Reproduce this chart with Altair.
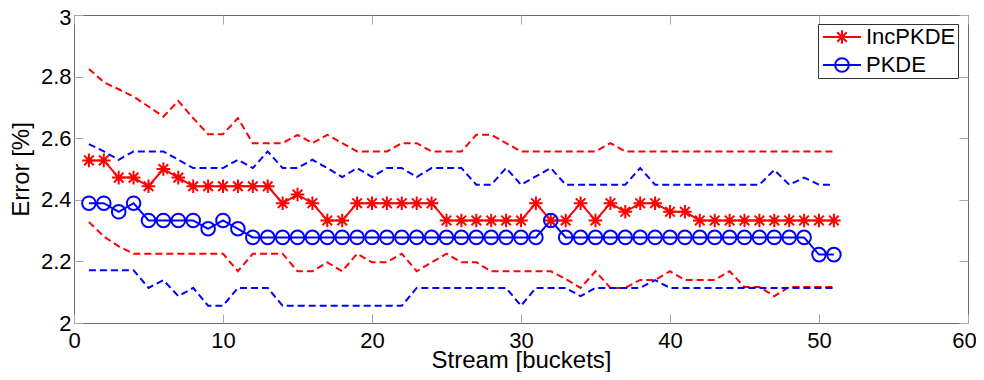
import altair as alt
import pandas as pd

# ---- data ----
x_vals = list(range(1, 52))

inc_mean = [2.528, 2.528, 2.472, 2.472, 2.444, 2.500, 2.472, 2.444, 2.444, 2.444,
            2.444, 2.444, 2.444, 2.389, 2.417, 2.389, 2.333, 2.333, 2.389, 2.389,
            2.389, 2.389, 2.389, 2.389, 2.333, 2.333, 2.333, 2.333, 2.333, 2.333,
            2.389, 2.333, 2.333, 2.389, 2.333, 2.389, 2.361, 2.389, 2.389, 2.361,
            2.361, 2.333, 2.333, 2.333, 2.333, 2.333, 2.333, 2.333, 2.333, 2.333,
            2.333]

pk_mean = [2.389, 2.389, 2.361, 2.389, 2.333, 2.333, 2.333, 2.333, 2.306, 2.333,
           2.306, 2.278, 2.278, 2.278, 2.278, 2.278, 2.278, 2.278, 2.278, 2.278,
           2.278, 2.278, 2.278, 2.278, 2.278, 2.278, 2.278, 2.278, 2.278, 2.278,
           2.278, 2.333, 2.278, 2.278, 2.278, 2.278, 2.278, 2.278, 2.278, 2.278,
           2.278, 2.278, 2.278, 2.278, 2.278, 2.278, 2.278, 2.278, 2.278, 2.222,
           2.222]

inc_upper = [2.825, 2.782, 2.759, 2.735, 2.703, 2.670, 2.721, 2.665, 2.613, 2.613,
             2.665, 2.584, 2.584, 2.584, 2.611, 2.584, 2.611, 2.584, 2.557, 2.557,
             2.557, 2.584, 2.584, 2.557, 2.557, 2.557, 2.611, 2.611, 2.584, 2.557,
             2.557, 2.557, 2.557, 2.557, 2.557, 2.584, 2.557, 2.557, 2.557, 2.557,
             2.557, 2.557, 2.557, 2.557, 2.557, 2.557, 2.557, 2.557, 2.557, 2.557,
             2.557]

inc_lower = [2.328, 2.281, 2.249, 2.225, 2.225, 2.225, 2.225, 2.225, 2.225, 2.225,
             2.168, 2.225, 2.225, 2.225, 2.168, 2.168, 2.197, 2.168, 2.225, 2.197,
             2.197, 2.225, 2.168, 2.197, 2.225, 2.197, 2.197, 2.168, 2.168, 2.168,
             2.168, 2.168, 2.143, 2.114, 2.168, 2.114, 2.114, 2.140, 2.140, 2.168,
             2.140, 2.140, 2.140, 2.168, 2.117, 2.117, 2.087, 2.117, 2.117, 2.117,
             2.117]

pk_upper = [2.581, 2.557, 2.530, 2.557, 2.557, 2.557, 2.530, 2.503, 2.503, 2.503,
            2.530, 2.503, 2.557, 2.503, 2.503, 2.530, 2.503, 2.474, 2.503, 2.474,
            2.503, 2.503, 2.474, 2.503, 2.503, 2.503, 2.449, 2.449, 2.503, 2.449,
            2.476, 2.503, 2.449, 2.449, 2.449, 2.449, 2.449, 2.503, 2.449, 2.449,
            2.449, 2.449, 2.449, 2.449, 2.449, 2.449, 2.497, 2.449, 2.472, 2.449,
            2.449]

pk_lower = [2.171, 2.171, 2.171, 2.171, 2.114, 2.139, 2.087, 2.114, 2.056, 2.056,
            2.114, 2.114, 2.114, 2.056, 2.056, 2.056, 2.056, 2.056, 2.056, 2.056,
            2.056, 2.056, 2.114, 2.114, 2.114, 2.114, 2.114, 2.114, 2.114, 2.056,
            2.114, 2.114, 2.114, 2.087, 2.114, 2.114, 2.114, 2.114, 2.139, 2.114,
            2.114, 2.114, 2.114, 2.114, 2.114, 2.114, 2.114, 2.114, 2.114, 2.114,
            2.114]

methods = ["IncPKDE", "PKDE"]
colors = ["#ff0000", "#0000ff"]
x_ticks = [0, 10, 20, 30, 40, 50, 60]
y_ticks = [2, 2.2, 2.4, 2.6, 2.8, 3]

n = len(x_vals)
means = pd.DataFrame({
    "x": x_vals * 2,
    "value": inc_mean + pk_mean,
    "method": ["IncPKDE"] * n + ["PKDE"] * n,
})
bounds = pd.DataFrame({
    "x": x_vals * 4,
    "value": inc_upper + inc_lower + pk_upper + pk_lower,
    "method": ["IncPKDE"] * (2 * n) + ["PKDE"] * (2 * n),
    "bound": ["iu"] * n + ["il"] * n + ["pu"] * n + ["pl"] * n,
})

# ---- styling ----
FONT = "Liberation Sans"
TICK_COLOR = "#a8a8a8"

star_path = "M0,-0.85L0,0.85M-0.85,0L0.85,0M-0.6,-0.6L0.6,0.6M-0.6,0.6L0.6,-0.6"
circle_path = "M0.85,0A0.85,0.85,0,1,1,-0.85,0A0.85,0.85,0,1,1,0.85,0"
# legend glyphs: line with the marker, drawn in symbol units (9 px per unit)
leg_star = ("M-0.89,0L3.33,0M1.22,-0.76L1.22,0.76M0.69,0L1.75,0"
            "M0.69,-0.53L1.75,0.53M0.69,0.53L1.75,-0.53")
leg_circle = "M-0.89,0L3.33,0M1.98,0A0.76,0.76,0,1,1,0.46,0A0.76,0.76,0,1,1,1.98,0"

xs = alt.Scale(domain=[0, 60], nice=False, zero=False)
ys = alt.Scale(domain=[2, 3], nice=False, zero=False)
cs = alt.Scale(domain=methods, range=colors)

common_axis = dict(tickSize=9, offset=-9, domain=False, grid=False,
                   tickColor=TICK_COLOR, tickWidth=1, labelFlush=False,
                   labelOverlap=False)

bottom_axis = alt.Axis(orient="bottom", values=x_ticks, labelFontSize=22, labelFont=FONT,
                       labelColor="black", labelPadding=7,
                       labelOffset=alt.condition("datum.value == 60", alt.value(-4), alt.value(0)),
                       title="Stream [buckets]",
                       titleFontSize=24, titleFont=FONT, titleFontWeight="normal",
                       titleColor="black", titleY=53, titleBaseline="alphabetic",
                       **common_axis)
left_axis = alt.Axis(orient="left", values=y_ticks, format=".1~f", labelFontSize=22,
                     labelFont=FONT, labelColor="black", labelPadding=3,
                     labelOffset=alt.condition("datum.value == 3", alt.value(2), alt.value(0)),
                     title="Error [%]", titleFontSize=24, titleFont=FONT,
                     titleFontWeight="normal", titleColor="black", titleX=-55,
                     titleBaseline="alphabetic", **common_axis)
top_axis = alt.Axis(orient="top", values=x_ticks, labels=False, title=None, **common_axis)
right_axis = alt.Axis(orient="right", values=y_ticks, labels=False, title=None, **common_axis)

bounds_layer = alt.Chart(bounds).mark_line(strokeDash=[7, 4], strokeWidth=2).encode(
    x=alt.X("x:Q", scale=xs, axis=bottom_axis),
    y=alt.Y("value:Q", scale=ys, axis=left_axis),
    color=alt.Color("method:N", scale=cs, legend=None),
    detail="bound:N",
)

mean_lines = alt.Chart(means).mark_line(strokeWidth=2).encode(
    x=alt.X("x:Q", scale=xs, axis=top_axis),
    y=alt.Y("value:Q", scale=ys, axis=right_axis),
    color=alt.Color("method:N", scale=cs, legend=None),
)

mean_points = alt.Chart(means).mark_point(filled=False, strokeWidth=2, size=256, opacity=1).encode(
    x=alt.X("x:Q", scale=xs, axis=None),
    y=alt.Y("value:Q", scale=ys, axis=None),
    color=alt.Color("method:N", scale=cs, legend=None),
    shape=alt.Shape("method:N", scale=alt.Scale(domain=methods, range=[star_path, circle_path]),
                    legend=None),
)

leg = alt.Legend(title=None, orient="none", legendX=744, legendY=9, symbolSize=324,
                 symbolStrokeWidth=2, symbolFillColor="transparent", symbolOpacity=1,
                 labelFontSize=22, labelFont=FONT, labelColor="black", labelOffset=24,
                 padding=2, rowPadding=6, strokeColor="#333333", fillColor="white")

legend_layer = alt.Chart(means).transform_filter("false").mark_point(
    filled=False, strokeWidth=2, opacity=1).encode(
    color=alt.Color("method:N", scale=cs, legend=leg),
    shape=alt.Shape("method:N", scale=alt.Scale(domain=methods, range=[leg_star, leg_circle]),
                    legend=leg),
)

chart = alt.layer(bounds_layer, mean_lines, mean_points, legend_layer).resolve_scale(
    color="independent", shape="independent"
).resolve_axis(
    x="independent", y="independent"
).properties(
    width=894, height=308,
    autosize=alt.AutoSizeParams(type="none"),
    padding={"left": 66, "top": 7, "right": 8, "bottom": 49},
).configure(font=FONT).configure_view(stroke="#6b6b6b", strokeWidth=1)

chart.save("out.html", embed_options={"renderer": "svg", "actions": False})
